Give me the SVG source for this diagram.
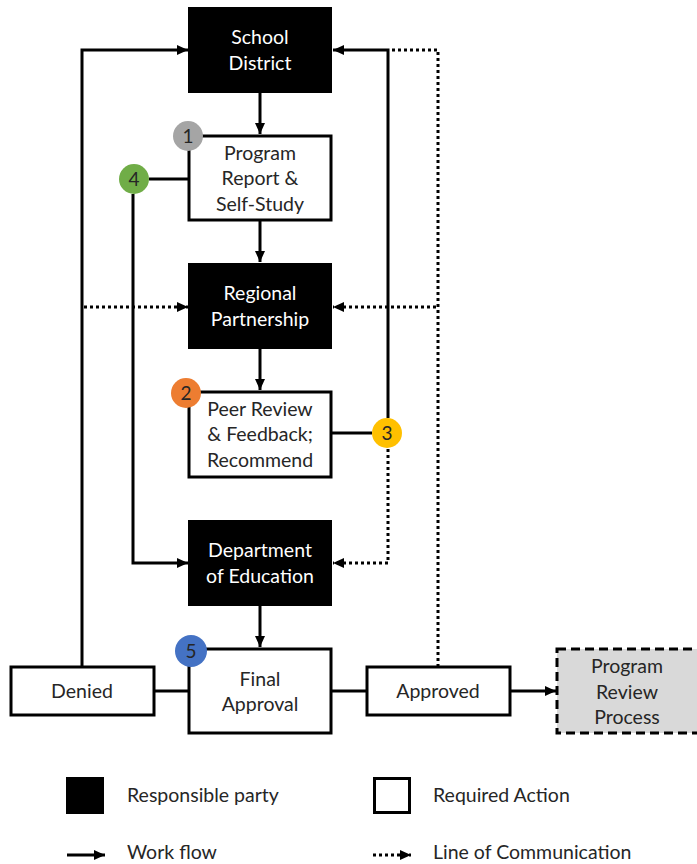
<svg xmlns="http://www.w3.org/2000/svg" width="697" height="864" viewBox="0 0 697 864">
<style>
text{font-family:Lato,"Open Sans","Liberation Sans",sans-serif;font-size:19.5px;text-anchor:middle;dominant-baseline:central;fill:#262626}
.party rect{fill:#000;stroke:#000;stroke-width:2}
.party text{fill:#fff}
.action rect{fill:#fff;stroke:#000;stroke-width:3}
.badge text{font-size:19px}
.wf{fill:none;stroke:#000;stroke-width:3}
.lc{fill:none;stroke:#000;stroke-width:3;stroke-dasharray:3 3}
.legend text{text-anchor:start}
</style>
<defs>
<marker id="ah" markerUnits="userSpaceOnUse" markerWidth="12" markerHeight="12" viewBox="0 0 12 12" refX="11" refY="6" orient="auto">
<path d="M0,1 L11,6 L0,11 Z" fill="#000"/>
</marker>
</defs>
<rect width="697" height="864" fill="#fff"/>

<g id="connectors">
<path class="wf" d="M260,92 V134" marker-end="url(#ah)"/>
<path class="wf" d="M260,220 V262" marker-end="url(#ah)"/>
<path class="wf" d="M260,349 V390" marker-end="url(#ah)"/>
<path class="wf" d="M260,606 V647" marker-end="url(#ah)"/>
<path class="wf" d="M188,179 H149"/>
<path class="wf" d="M133,194 V563 H188" marker-end="url(#ah)"/>
<path class="wf" d="M82,667 V50 H188" marker-end="url(#ah)"/>
<path class="wf" d="M154,691 H189"/>
<path class="wf" d="M332,691 H367"/>
<path class="wf" d="M511,691 H556" marker-end="url(#ah)"/>
<path class="wf" d="M388,418 V50 H333" marker-end="url(#ah)"/>
<path class="wf" d="M331,433 H372"/>
<path class="lc" d="M438,667 V50 H390"/>
<path class="lc" d="M84,307 H188" marker-end="url(#ah)"/>
<path class="lc" d="M436,307 H333" marker-end="url(#ah)"/>
<path class="lc" d="M388,449 V563 H333" marker-end="url(#ah)"/>
</g>

<g id="school-district" class="party">
<rect x="189" y="8" width="142" height="84"/>
<text x="260" y="36">School</text>
<text x="260" y="62">District</text>
</g>
<g id="program-report" class="action">
<rect x="189" y="136" width="142" height="84"/>
<text x="260" y="152">Program</text>
<text x="260" y="177">Report &amp;</text>
<text x="260" y="203">Self-Study</text>
</g>
<g id="regional-partnership" class="party">
<rect x="189" y="264" width="142" height="84"/>
<text x="260" y="292">Regional</text>
<text x="260" y="318">Partnership</text>
</g>
<g id="peer-review" class="action">
<rect x="189" y="392" width="142" height="85"/>
<text x="260" y="408">Peer Review</text>
<text x="260" y="433">&amp; Feedback;</text>
<text x="260" y="459">Recommend</text>
</g>
<g id="department" class="party">
<rect x="189" y="521" width="142" height="84"/>
<text x="260" y="549">Department</text>
<text x="260" y="575">of Education</text>
</g>
<g id="final-approval" class="action">
<rect x="189" y="649" width="142" height="84"/>
<text x="260" y="678">Final</text>
<text x="260" y="703">Approval</text>
</g>
<g id="denied" class="action">
<rect x="11" y="667" width="143" height="48"/>
<text x="82" y="690">Denied</text>
</g>
<g id="approved" class="action">
<rect x="367" y="667" width="143" height="48"/>
<text x="438" y="690">Approved</text>
</g>
<g id="program-review-process">
<rect x="557" y="649" width="142" height="84" fill="#d9d9d9" stroke="#000" stroke-width="3" stroke-dasharray="9 5"/>
<text x="627" y="665">Program</text>
<text x="627" y="691">Review</text>
<text x="627" y="716">Process</text>
</g>

<g id="badge-1" class="badge"><circle cx="188" cy="136" r="15" fill="#a5a5a5"/><text x="188" y="135">1</text></g>
<g id="badge-2" class="badge"><circle cx="186" cy="393" r="15" fill="#ed7d31"/><text x="186" y="392">2</text></g>
<g id="badge-3" class="badge"><circle cx="387" cy="433" r="15" fill="#ffc000"/><text x="387" y="432">3</text></g>
<g id="badge-4" class="badge"><circle cx="134" cy="179" r="15" fill="#70ad47"/><text x="134" y="178">4</text></g>
<g id="badge-5" class="badge"><circle cx="191" cy="651" r="16" fill="#4472c4"/><text x="191" y="650">5</text></g>

<g id="legend" class="legend">
<rect x="66" y="777" width="38" height="37" fill="#000"/>
<text x="127" y="794">Responsible party</text>
<rect x="374.5" y="778.5" width="35" height="34" fill="#fff" stroke="#000" stroke-width="3"/>
<text x="433" y="794">Required Action</text>
<path class="wf" d="M67,855 H105" marker-end="url(#ah)"/>
<text x="127" y="851">Work flow</text>
<path class="lc" d="M373,855 H411" marker-end="url(#ah)"/>
<text x="433" y="851">Line of Communication</text>
</g>
</svg>
